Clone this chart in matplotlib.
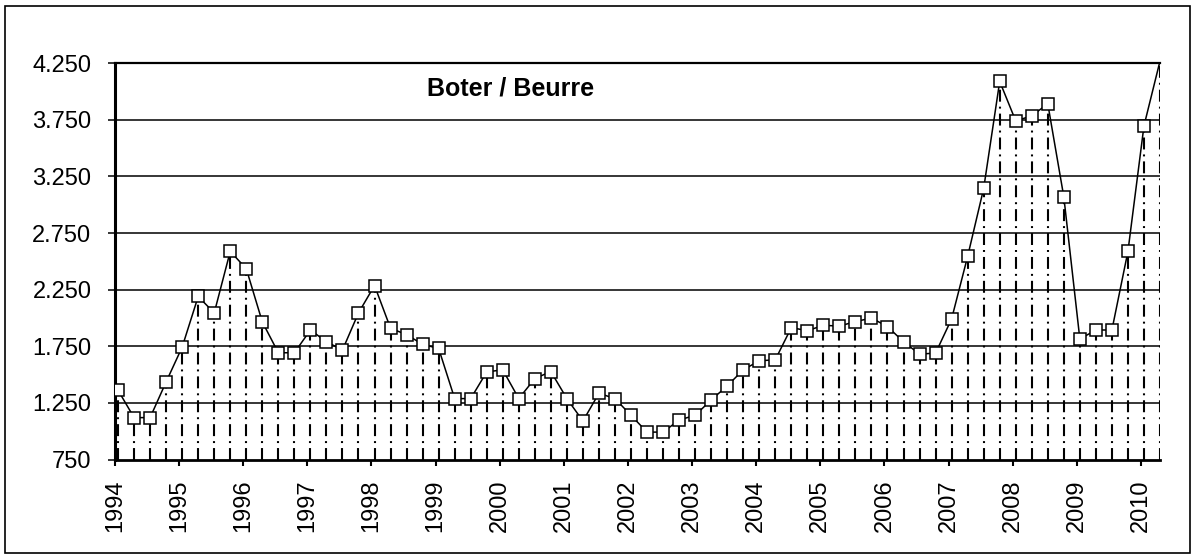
import numpy as np
import matplotlib
matplotlib.use("Agg")
import matplotlib.pyplot as plt
from matplotlib.ticker import FuncFormatter
from matplotlib.patches import Rectangle

plt.rcParams['font.family'] = ['Liberation Sans', 'DejaVu Sans']
plt.rcParams['lines.scale_dashes'] = False

title = "Boter / Beurre"
years = [str(y) for y in range(1994, 2011)]
# quarterly butter prices, 1994 Q1 .. 2010 Q2
values = [1362, 1120, 1120, 1436, 1743, 2190, 2045, 2589, 2435, 1965,
          1693, 1693, 1894, 1790, 1717, 2045, 2287, 1909, 1853, 1767,
          1731, 1288, 1288, 1524, 1542, 1288, 1465, 1527, 1288, 1090,
          1335, 1288, 1140, 992, 992, 1099, 1140, 1276, 1400, 1542,
          1622, 1631, 1915, 1888, 1935, 1929, 1968, 2000, 1924, 1790,
          1681, 1690, 1992, 2544, 3144, 4090, 3741, 3786, 3892, 3070,
          1814, 1894, 1894, 2589, 3697, 4270]
yticks = [750, 1250, 1750, 2250, 2750, 3250, 3750, 4250]

W, H = 1192, 554
fig = plt.figure(figsize=(W / 100, H / 100), dpi=100)
fig.patch.set_facecolor('white')
fig.patches.append(Rectangle((5 / W, 1 - 553 / H), 1185 / W, 547 / H,
                             transform=fig.transFigure, fill=False,
                             edgecolor='black', linewidth=1.2))

ax = fig.add_axes([115 / W, 1 - 459.5 / H, 1045 / W, 396.2 / H])
x = np.arange(len(values))
ymin, ymax = yticks[0], yticks[-1]

ax.set_xlim(-0.19, len(values) - 1)
ax.set_ylim(ymin, ymax)

# horizontal gridlines
for yt in yticks[1:-1]:
    ax.axhline(yt, color='black', linewidth=1.1, zorder=1)

# drop lines
ax.vlines(x, ymin, values, colors='black', linewidth=1.5,
          linestyles=[(0, (8.6, 3.6, 1.4, 3.6))], zorder=2)

# main line with square markers
ax.plot(x, values, color='black', linewidth=1.1, marker='s', markersize=8.5,
        markerfacecolor='white', markeredgecolor='black', markeredgewidth=1.1,
        markevery=list(range(len(values) - 1)), zorder=3)

ax.set_yticks(yticks)
ax.yaxis.set_major_formatter(FuncFormatter(lambda v, p: f"{v:,.0f}".replace(',', '.')))
ax.set_xticks([4 * i - 0.19 for i in range(len(years))])
ax.set_xticklabels(years, rotation=90)

ax.tick_params(axis='y', direction='out', length=5, width=1.1, pad=12, labelsize=17)
ax.tick_params(axis='x', direction='out', length=4.5, width=1.5, pad=10, labelsize=17)

for s in ['left']:
    ax.spines[s].set_linewidth(2.2)
ax.spines['bottom'].set_linewidth(2.0)
ax.spines['top'].set_linewidth(1.6)
ax.spines['right'].set_visible(False)

ax.text(511 / W, 1 - 88 / H, title, transform=fig.transFigure, ha='center',
        va='center', fontsize=18, fontweight='bold')

fig.savefig("out.png", dpi=100)
